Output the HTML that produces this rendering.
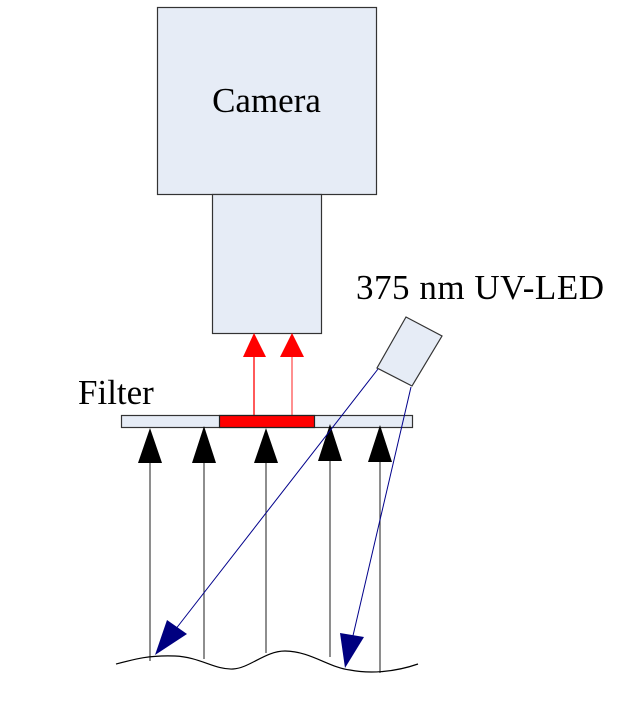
<!DOCTYPE html>
<html><head><style>body{margin:0;background:#fff}svg{display:block}</style></head>
<body>
<svg width="628" height="719" viewBox="0 0 628 719" xmlns="http://www.w3.org/2000/svg">
<rect x="157.5" y="7.5" width="219" height="187" fill="#e6ecf6" stroke="#333" stroke-width="1.2"/>
<text x="266.5" y="112" font-family="Liberation Serif, serif" font-size="35" text-anchor="middle">Camera</text>
<rect x="212.5" y="194.5" width="109" height="139" fill="#e6ecf6" stroke="#333" stroke-width="1.2"/>
<text x="356" y="299" font-family="Liberation Serif, serif" font-size="35" textLength="248">375 nm UV-LED</text>
<text x="78" y="404" font-family="Liberation Serif, serif" font-size="35">Filter</text>
<polygon points="406,317 442,336 412,386 377,368" fill="#e6ecf6" stroke="#333" stroke-width="1.2"/>
<line x1="254" y1="357" x2="254" y2="415" stroke="#f00" stroke-width="1.3"/>
<line x1="292" y1="357" x2="292" y2="415" stroke="#f55" stroke-width="1.3"/>
<polygon points="254,333 243,357 266,357" fill="#f00"/>
<polygon points="292,333 280,357 304,357" fill="#f00"/>
<rect x="121.5" y="415.5" width="291" height="12" fill="#e6ecf6" stroke="#333" stroke-width="1.2"/>
<rect x="219.5" y="415.5" width="95" height="12" fill="#f00" stroke="#222" stroke-width="1.2"/>
<g stroke="#444" stroke-width="1.2">
<line x1="150" y1="460" x2="150" y2="661"/>
<line x1="204" y1="460" x2="204" y2="659"/>
<line x1="266" y1="460" x2="266" y2="653"/>
<line x1="330" y1="460" x2="330" y2="657"/>
<line x1="380" y1="460" x2="380" y2="673"/>
</g>
<g fill="#000">
<polygon points="150,428 138,463 162,463"/>
<polygon points="204,426 192,463 216,463"/>
<polygon points="266,428 254,463 278,463"/>
<polygon points="330,424 318,461 342,461"/>
<polygon points="380,425 368,462 392,462"/>
</g>
<line x1="378" y1="369" x2="175" y2="630" stroke="#00008b" stroke-width="1"/>
<line x1="411" y1="387" x2="352" y2="640" stroke="#00008b" stroke-width="1"/>
<polygon points="155,655 167,620 187,634" fill="#000080"/>
<polygon points="345,668 340,633 364,637" fill="#000080"/>
<path d="M116,664 C135,659 150,655 175,656 C200,657 215,670 233,669 C250,668 265,651 285,651 C310,651 330,668 350,670 C370,674 395,672 418,664" fill="none" stroke="#000" stroke-width="1.2"/>
</svg>
</body></html>
